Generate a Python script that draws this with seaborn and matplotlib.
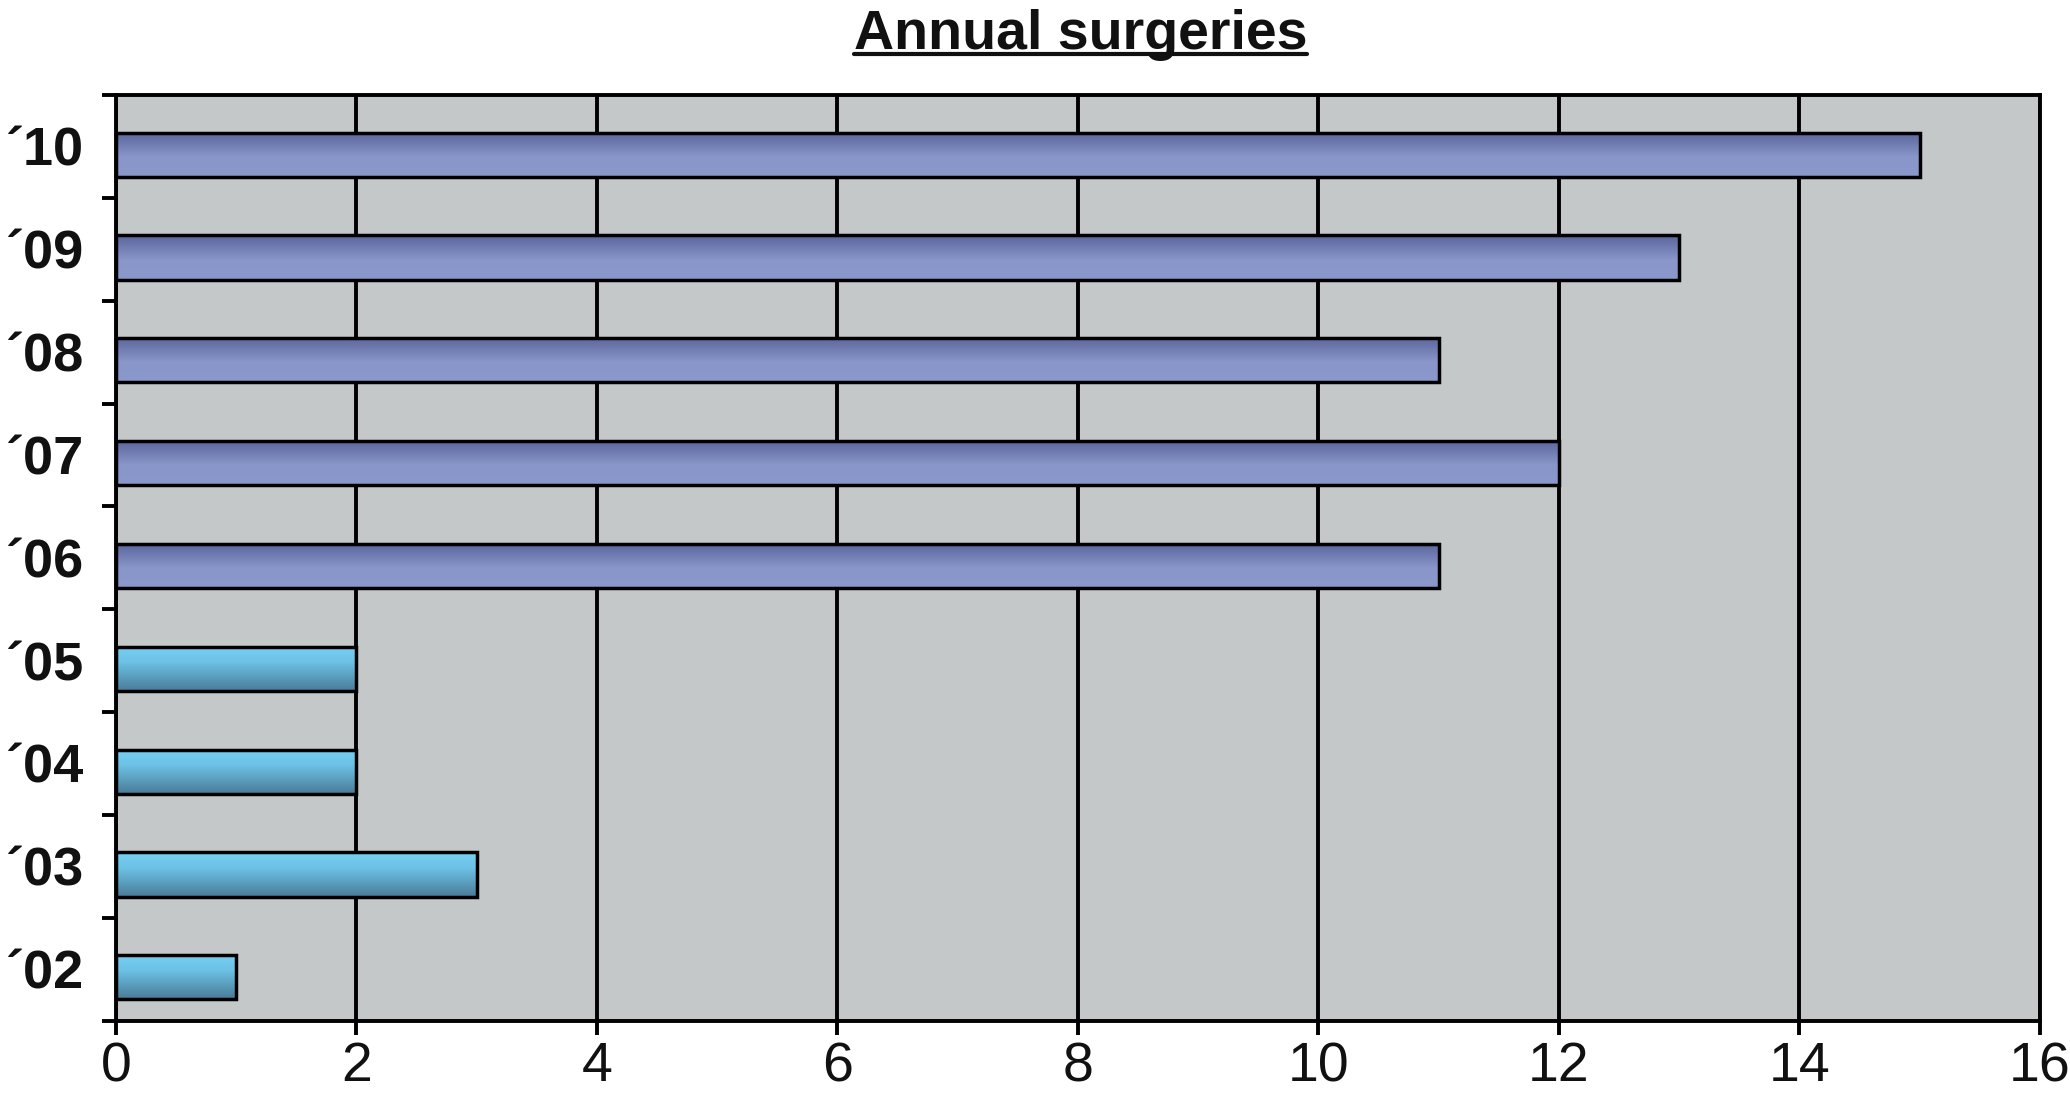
import numpy as np
import pandas as pd
import matplotlib
matplotlib.use('Agg')
import matplotlib.pyplot as plt
from matplotlib import font_manager
from matplotlib.colors import LinearSegmentedColormap
from matplotlib.lines import Line2D
import seaborn as sns

# --- data ---
years = ['´10', '´09', '´08', '´07', '´06', '´05', '´04', '´03', '´02']
surgeries = [15, 13, 11, 12, 11, 2, 2, 3, 1]
period = ['late'] * 5 + ['early'] * 4
x_ticks = [0, 2, 4, 6, 8, 10, 12, 14, 16]

df = pd.DataFrame({'year': years, 'surgeries': surgeries, 'period': period})

sns.set_style('white')
plt.rcParams['font.family'] = ['Liberation Sans', 'DejaVu Sans']

# condensed face for the year labels if there is one
names = {f.name for f in font_manager.fontManager.ttflist}
if 'Liberation Sans Narrow' in names:
    ylab_family, ylab_size = ['Liberation Sans Narrow', 'Liberation Sans'], 42
else:
    ylab_family, ylab_size = ['Liberation Sans', 'DejaVu Sans'], 39

fig = plt.figure(figsize=(20.7, 11.07), dpi=100)
ax = fig.add_axes([0.056, 0.0781, 0.9295, 0.8361])
ax.set_facecolor('#c5c8c9')

sns.barplot(data=df, x='surgeries', y='year', hue='period', order=years,
            palette={'late': '#8896c9', 'early': '#6ec8ec'}, dodge=False,
            legend=False, width=0.43, edgecolor='black', linewidth=2.5,
            orient='h', ax=ax, zorder=3)

# gradient fill for each bar (Excel-like shading)
grad_late = LinearSegmentedColormap.from_list(
    'late', [(0, '#5b669c'), (0.55, '#8896c9'), (1, '#8a98cb')])
grad_early = LinearSegmentedColormap.from_list(
    'early', [(0, '#76d0f3'), (0.35, '#6cc2e6'), (1, '#4a7c98')])
grad = np.linspace(0, 1, 64).reshape(-1, 1)
for patch, per in zip(ax.patches, period):
    patch.set_y(patch.get_y() + 0.08)  # Excel draws bars a bit low in the band
    x0, y0 = patch.get_x(), patch.get_y()
    w, h = patch.get_width(), patch.get_height()
    im = ax.imshow(grad, extent=(x0, x0 + w, y0 + h, y0), origin='upper',
                   aspect='auto', cmap=grad_late if per == 'late' else grad_early,
                   zorder=2.8, interpolation='bilinear')
    im.set_clip_path(patch)
    patch.set_facecolor('none')

ax.set_xlim(0, 16)
ax.set_ylim(len(years) - 0.5, -0.5)
ax.set_aspect('auto')

ax.set_xticks(x_ticks)
ax.set_xticklabels([str(t) for t in x_ticks], fontsize=40)
ax.tick_params(axis='x', length=10, width=2.8, color='black', pad=5,
               bottom=True, labelcolor='#111111')
ax.set_yticks(range(len(years)))
ax.set_yticklabels(years, fontsize=ylab_size, fontweight='bold', family=ylab_family)
ax.tick_params(axis='y', length=0, pad=23, labelcolor='#111111')
ax.set_yticks(np.arange(-0.5, len(years), 1), minor=True)
ax.tick_params(axis='y', which='minor', length=10, width=2.8, color='black', left=True)

ax.grid(axis='x', color='black', linewidth=2.8)
ax.grid(axis='y', visible=False)
ax.set_axisbelow(True)
for s in ax.spines.values():
    s.set_color('black')
    s.set_linewidth(2.8)
ax.set_xlabel('')
ax.set_ylabel('')

# underlined title
title = fig.text(0.522, 1 - 49 / 1107, 'Annual surgeries', ha='center', va='baseline',
                 fontsize=40, fontweight='bold', color='#111111')
fig.canvas.draw()
bb = title.get_window_extent()
uy = 1 - 54 / 1107
fig.add_artist(Line2D([bb.x0 / fig.bbox.width, bb.x1 / fig.bbox.width], [uy, uy],
                      transform=fig.transFigure, color='#111111', linewidth=3))

fig.savefig('out.png', dpi=100)
